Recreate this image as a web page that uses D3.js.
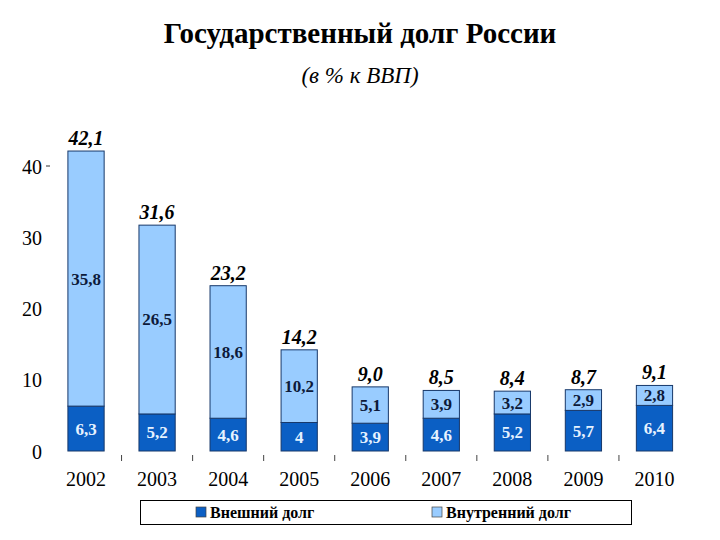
<!DOCTYPE html>
<html>
<head>
<meta charset="utf-8">
<script src="https://cdn.jsdelivr.net/npm/d3@7"></script>
<style>
  body { margin: 0; background: #fff; }
  svg { display: block; }
</style>
</head>
<body>
<svg id="chart"></svg>
<script>
// data
let years = ["2002", "2003", "2004", "2005", "2006", "2007", "2008", "2009", "2010"];
let externalDebt = [6.3, 5.2, 4.6, 4, 3.9, 4.6, 5.2, 5.7, 6.4];
let internalDebt = [35.8, 26.5, 18.6, 10.2, 5.1, 3.9, 3.2, 2.9, 2.8];
let totals = ["42,1", "31,6", "23,2", "14,2", "9,0", "8,5", "8,4", "8,7", "9,1"];
let yTicks = [0, 10, 20, 30, 40];
let seriesNames = ["Внешний долг", "Внутренний долг"];

let fmt = v => String(v).replace(".", ",");

let width = 720, height = 540;
let colors = { ext: "#0b5fc4", int: "#99ccff", edge: "#17386a" };
let serif = "Liberation Serif";

let svg = d3.select("#chart").attr("width", width).attr("height", height)
    .attr("font-family", serif);

// title
svg.append("text")
    .attr("x", 360).attr("y", 43)
    .attr("text-anchor", "middle")
    .attr("font-family", serif).attr("font-weight", "bold").attr("font-size", 29)
    .text("Государственный долг России");
svg.append("text")
    .attr("x", 360).attr("y", 83)
    .attr("text-anchor", "middle")
    .attr("font-family", serif).attr("font-style", "italic").attr("font-size", 23)
    .text("(в % к ВВП)");

// scales
let x = d3.scaleBand().domain(years).range([50.5, 690]).paddingInner(0.49).paddingOuter(0.245);
let y = d3.scaleLinear().domain([0, 40]).range([451, 166]);

let rows = years.map((yr, i) => ({
    year: yr,
    ext: externalDebt[i],
    int: internalDebt[i],
    total: totals[i]
}));

let g = svg.append("g");

// y axis labels
let yAxis = g.append("g").attr("transform", "translate(50,0)")
    .call(d3.axisLeft(y).tickValues(yTicks).tickSize(0).tickPadding(8).tickFormat(d => d));
yAxis.attr("font-family", serif);
yAxis.select(".domain").remove();
yAxis.selectAll("text")
    .attr("font-family", serif).attr("font-size", 20).attr("fill", "#000")
    .attr("dy", "0.35em");
// the little dash next to 40
g.append("line")
    .attr("x1", 46).attr("x2", 50)
    .attr("y1", y(40)).attr("y2", y(40))
    .attr("stroke", "#333").attr("stroke-width", 1);

// x axis labels + small ticks between categories
let xAxis = g.append("g").attr("transform", "translate(0,458)")
    .call(d3.axisBottom(x).tickSize(0).tickPadding(14));
xAxis.attr("font-family", serif);
xAxis.select(".domain").remove();
xAxis.selectAll("text")
    .attr("font-family", serif).attr("font-size", 20).attr("fill", "#000");
let step = x.step();
g.selectAll(".sep").data(years.slice(1))
    .enter().append("line")
    .attr("class", "sep")
    .attr("x1", d => x(d) + x.bandwidth() / 2 - step / 2)
    .attr("x2", d => x(d) + x.bandwidth() / 2 - step / 2)
    .attr("y1", 455).attr("y2", 461)
    .attr("stroke", "#444").attr("stroke-width", 1);

// bars
let bars = g.selectAll(".bar").data(rows).enter().append("g").attr("class", "bar");
bars.append("rect")
    .attr("x", d => x(d.year))
    .attr("width", x.bandwidth())
    .attr("y", d => y(d.ext))
    .attr("height", d => y(0) - y(d.ext))
    .attr("fill", colors.ext)
    .attr("stroke", colors.edge).attr("stroke-width", 1);
bars.append("rect")
    .attr("x", d => x(d.year))
    .attr("width", x.bandwidth())
    .attr("y", d => y(d.ext + d.int))
    .attr("height", d => y(d.ext) - y(d.ext + d.int))
    .attr("fill", colors.int)
    .attr("stroke", colors.edge).attr("stroke-width", 1);

// segment labels
bars.append("text")
    .attr("x", d => x(d.year) + x.bandwidth() / 2)
    .attr("y", d => y(d.ext / 2))
    .attr("dy", "0.35em")
    .attr("text-anchor", "middle")
    .attr("font-family", serif).attr("font-weight", "bold").attr("font-size", 17)
    .attr("fill", "#e6f2ff")
    .text(d => fmt(d.ext));
bars.append("text")
    .attr("x", d => x(d.year) + x.bandwidth() / 2)
    .attr("y", d => y(d.ext + d.int / 2))
    .attr("dy", "0.35em")
    .attr("text-anchor", "middle")
    .attr("font-family", serif).attr("font-weight", "bold").attr("font-size", 17)
    .attr("fill", "#0d1a3a")
    .text(d => fmt(d.int));

// totals on top
bars.append("text")
    .attr("x", d => x(d.year) + x.bandwidth() / 2)
    .attr("y", d => y(d.ext + d.int) - 6)
    .attr("text-anchor", "middle")
    .attr("font-family", serif).attr("font-weight", "bold").attr("font-style", "italic").attr("font-size", 20)
    .attr("fill", "#000")
    .text(d => d.total);

// legend
let legend = svg.append("g");
legend.append("rect")
    .attr("x", 140.5).attr("y", 500.5).attr("width", 491).attr("height", 24)
    .attr("fill", "#fff").attr("stroke", "#000").attr("stroke-width", 1);
let legendItems = [
    { name: seriesNames[0], color: colors.ext, x: 196 },
    { name: seriesNames[1], color: colors.int, x: 432 }
];
let li = legend.selectAll(".li").data(legendItems).enter().append("g").attr("class", "li");
li.append("rect")
    .attr("x", d => d.x).attr("y", 507)
    .attr("width", 10).attr("height", 10)
    .attr("fill", d => d.color).attr("stroke", "#444").attr("stroke-width", 0.7);
li.append("text")
    .attr("x", d => d.x + 14).attr("y", 518)
    .attr("font-family", serif).attr("font-weight", "bold").attr("font-size", 16)
    .text(d => d.name);
</script>
</body>
</html>
